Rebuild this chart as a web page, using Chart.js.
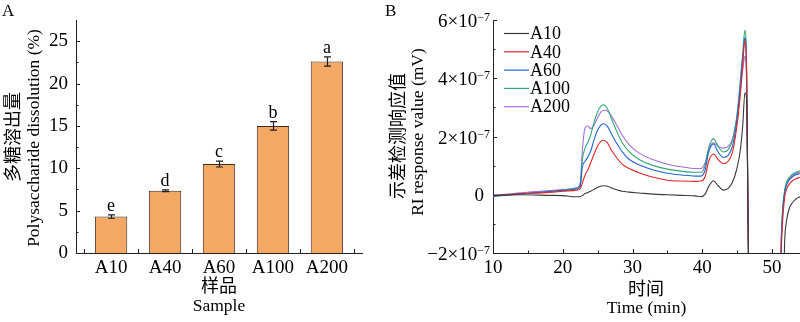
<!DOCTYPE html>
<html><head><meta charset="utf-8">
<script src="https://cdn.jsdelivr.net/npm/chart.js@4.4.0/dist/chart.umd.min.js"></script>
<style>
html,body{margin:0;padding:0;width:800px;height:322px;overflow:hidden;background:#fff;}
#ca{position:absolute;left:0;top:0;}
#cb{position:absolute;left:380px;top:0;}
.pl{position:absolute;font:17px "Liberation Serif",serif;line-height:17px;color:#000;}
</style></head><body>
<canvas id="ca" width="385" height="322"></canvas>
<canvas id="cb" width="420" height="322"></canvas>
<div class="pl" style="left:2px;top:2px">A</div>
<div class="pl" style="left:385px;top:2px">B</div>
<script>
// ---------- Panel A data ----------
const SAMPLES = ['A10', 'A40', 'A60', 'A100', 'A200'];
const DISSOLUTION = [4.3, 7.35, 10.5, 15.0, 22.6];
const DISSOLUTION_SD = [0.2, 0.1, 0.35, 0.5, 0.55];
const SIG_LETTERS = ['e', 'd', 'c', 'b', 'a'];
const A_Y_TICKS = [0, 5, 10, 15, 20, 25];
const A_Y_MINOR = [2.5, 7.5, 12.5, 17.5, 22.5];
const A_X_MARKS = [0.5, 1.5, 2.5, 3.5, 4.5, 5.5];

// ---------- Panel B data (RI response, units of 10^-7 mV) ----------
const TIME = [10, 14, 18, 20, 22, 22.5, 22.8, 23.2, 23.6, 24.0, 24.5, 25.0, 25.5, 25.9, 26.4, 27.0, 27.7, 28.5, 29.5, 31, 33, 35, 37, 39, 39.8, 40.4, 40.9, 41.6, 42.3, 43.0, 43.7, 44.3, 44.9, 45.4, 45.8, 46.1, 46.35, 46.7, 48, 50, 51.0, 51.25, 51.5, 51.8, 52.1, 52.5, 53.0, 53.5, 54.0];
const RI_A10  = [-0.02, 0.0, -0.02, -0.03, -0.07, -0.06, -0.03, 0.04, 0.08, 0.12, 0.19, 0.25, 0.3, 0.31, 0.29, 0.23, 0.17, 0.12, 0.09, 0.06, 0.02, 0.0, -0.02, -0.04, -0.07, 0.02, 0.28, 0.48, 0.3, 0.16, 0.22, 0.42, 0.85, 1.45, 2.4, 3.5, 3.3, -4, -8, -8, -8, -8, -4.5, -1.6, -0.85, -0.45, -0.25, -0.13, -0.07];
const RI_A40  = [-0.03, 0.03, 0.08, 0.12, 0.16, 0.2, 0.4, 0.68, 0.85, 1.1, 1.4, 1.68, 1.84, 1.87, 1.78, 1.52, 1.28, 1.05, 0.9, 0.75, 0.6, 0.5, 0.47, 0.46, 0.47, 0.62, 1.15, 1.4, 1.2, 1.07, 1.15, 1.45, 2.25, 3.3, 4.5, 5.3, 4.0, -4, -8, -8, -8, -2.7, -0.95, -0.1, 0.2, 0.38, 0.5, 0.56, 0.6];
const RI_A60  = [-0.05, 0.04, 0.11, 0.15, 0.2, 0.28, 0.95, 1.15, 1.3, 1.5, 1.9, 2.22, 2.4, 2.44, 2.35, 2.08, 1.78, 1.48, 1.22, 1.02, 0.85, 0.74, 0.68, 0.64, 0.64, 0.85, 1.45, 1.74, 1.45, 1.28, 1.35, 1.65, 2.45, 3.6, 4.7, 5.4, 4.2, -4, -8, -8, -8, -2.4, -0.7, 0.05, 0.35, 0.52, 0.63, 0.7, 0.72];
const RI_A100 = [-0.06, 0.03, 0.11, 0.16, 0.22, 0.32, 1.2, 1.6, 1.8, 2.05, 2.5, 2.85, 3.05, 3.09, 2.95, 2.6, 2.2, 1.8, 1.48, 1.2, 1.0, 0.88, 0.81, 0.77, 0.77, 1.0, 1.6, 1.92, 1.65, 1.47, 1.55, 1.85, 2.6, 3.8, 4.9, 5.65, 4.4, -4, -8, -8, -8, -2.2, -0.55, 0.15, 0.45, 0.6, 0.72, 0.78, 0.82];
const RI_A200 = [-0.02, 0.07, 0.14, 0.18, 0.24, 0.4, 1.5, 2.3, 2.36, 2.27, 2.4, 2.65, 2.85, 2.9, 2.87, 2.7, 2.4, 2.05, 1.72, 1.42, 1.2, 1.05, 0.96, 0.9, 0.9, 1.1, 1.55, 1.78, 1.66, 1.6, 1.66, 1.9, 2.6, 3.5, 4.3, 4.75, 3.8, -4, -8, -8, -8, -2.3, -0.6, 0.1, 0.4, 0.56, 0.68, 0.74, 0.78];
const SERIES_NAMES = ['A10', 'A40', 'A60', 'A100', 'A200'];
const SERIES_COLORS = ['#3a3a3a', '#e0262a', '#2463d2', '#2fa874', '#a56ed8'];
const B_Y_TICKS = [-2, 0, 2, 4, 6];
const B_Y_MINOR = [-1, 1, 3, 5];
const B_X_TICKS = [10, 20, 30, 40, 50];
const B_X_MINOR = [15, 25, 35, 45];

const SERIF = '"Liberation Serif", "Times New Roman", serif';
const CJK = '"Noto Sans CJK SC", "Liberation Serif", sans-serif';
const TICK_PX = 19;

function tickMarks(spec) {
  return { id: 'tickMarks', afterDraw(chart) {
    const ctx = chart.ctx, a = chart.chartArea;
    ctx.save(); ctx.strokeStyle = '#222'; ctx.lineWidth = 1; ctx.beginPath();
    spec.forEach(s => {
      const sc = chart.scales[s.axis];
      s.values.forEach(v => {
        const p = Math.round(sc.getPixelForValue(v)) + 0.5;
        if (s.axis === 'x') { ctx.moveTo(p, a.bottom); ctx.lineTo(p, a.bottom - s.len); }
        else { ctx.moveTo(a.left, p); ctx.lineTo(a.left + s.len, p); }
      });
    });
    ctx.stroke(); ctx.restore();
  }};
}
function titles(items) {
  return { id: 'titles', afterDraw(chart) {
    const ctx = chart.ctx;
    ctx.save(); ctx.fillStyle = '#000'; ctx.textAlign = 'center'; ctx.textBaseline = 'middle';
    items.forEach(it => {
      ctx.font = it.font;
      if (it.rot) { ctx.save(); ctx.translate(it.x, it.y); ctx.rotate(-Math.PI / 2); ctx.fillText(it.text, 0, 0); ctx.restore(); }
      else ctx.fillText(it.text, it.x, it.y);
    });
    ctx.restore();
  }};
}

// ---------- Panel A ----------
const errorBars = { id: 'errorBars', afterDatasetsDraw(chart) {
  const ctx = chart.ctx, y = chart.scales.y, meta = chart.getDatasetMeta(0);
  ctx.save(); ctx.strokeStyle = '#1e1e1e'; ctx.lineWidth = 1.2; ctx.fillStyle = '#000';
  ctx.font = '18px ' + SERIF; ctx.textAlign = 'center'; ctx.textBaseline = 'alphabetic';
  meta.data.forEach((el, i) => {
    const x = Math.round(el.x) + 0.5;
    const hi = y.getPixelForValue(DISSOLUTION[i] + DISSOLUTION_SD[i]);
    const lo = y.getPixelForValue(DISSOLUTION[i] - DISSOLUTION_SD[i]);
    ctx.beginPath();
    ctx.moveTo(x, hi); ctx.lineTo(x, lo);
    ctx.moveTo(x - 3.5, hi); ctx.lineTo(x + 3.5, hi);
    ctx.moveTo(x - 3.5, lo); ctx.lineTo(x + 3.5, lo);
    ctx.stroke();
    ctx.fillText(SIG_LETTERS[i], el.x, hi - 4);
  });
  ctx.restore();
}};

new Chart(document.getElementById('ca'), {
  type: 'bar',
  data: { datasets: [{
    data: SAMPLES.map((s, i) => ({ x: i + 1, y: DISSOLUTION[i] })),
    backgroundColor: '#F4A866', borderColor: '#3b2c20', borderWidth: 1,
    barPercentage: 0.6, categoryPercentage: 1
  }]},
  options: {
    responsive: false, animation: false,
    layout: { padding: { top: 20, right: 23, left: 0, bottom: 0 } },
    plugins: { legend: { display: false }, tooltip: { enabled: false } },
    scales: {
      x: { type: 'linear', min: 0.35, max: 5.65, offset: false,
        grid: { display: false, drawTicks: false, offset: false }, border: { display: true, color: '#222', width: 1 },
        afterBuildTicks: s => { s.ticks = SAMPLES.map((_, i) => ({ value: i + 1 })); },
        ticks: { callback: v => SAMPLES[v - 1], font: { family: SERIF, size: TICK_PX }, color: '#000', padding: 4, maxRotation: 0, autoSkip: false },
        afterFit: s => { s.height = 69; } },
      y: { min: 0, max: 27.5,
        grid: { display: false, drawTicks: false }, border: { display: true, color: '#222', width: 1 },
        afterBuildTicks: s => { s.ticks = A_Y_TICKS.map(v => ({ value: v })); },
        ticks: { font: { family: SERIF, size: TICK_PX }, color: '#000', padding: 8 },
        afterFit: s => { s.width = 76; } }
    }
  },
  plugins: [errorBars,
    tickMarks([{ axis: 'y', values: A_Y_TICKS, len: 4 }, { axis: 'y', values: A_Y_MINOR, len: 2.5 }, { axis: 'x', values: A_X_MARKS, len: 4 }]),
    titles([
      { text: '多糖溶出量', x: 12.5, y: 137, rot: true, font: '18px ' + CJK },
      { text: 'Polysaccharide dissolution (%)', x: 34.5, y: 138, rot: true, font: '17.5px ' + SERIF },
      { text: '样品', x: 219, y: 285, font: '18px ' + CJK },
      { text: 'Sample', x: 219, y: 306, font: '17.5px ' + SERIF }
    ])]
});

// ---------- Panel B ----------
const RI_SERIES = [RI_A10, RI_A40, RI_A60, RI_A100, RI_A200];
const yLabelsB = { id: 'yLabelsB', afterDraw(chart) {
  const ctx = chart.ctx, y = chart.scales.y, a = chart.chartArea;
  ctx.save(); ctx.fillStyle = '#000'; ctx.textBaseline = 'alphabetic';
  B_Y_TICKS.forEach(v => {
    const p = y.getPixelForValue(v);
    if (v === 0) { ctx.font = TICK_PX + 'px ' + SERIF; ctx.textAlign = 'right'; ctx.fillText('0', a.left - 9, p + 6.5); return; }
    const main = (v < 0 ? '\u2212' + Math.abs(v) : String(v)) + '\u00d710';
    const exp = '\u22127';
    ctx.font = '12px ' + SERIF; const we = ctx.measureText(exp).width;
    const xr = a.left - 3;
    ctx.textAlign = 'right'; ctx.fillText(exp, xr, p + 1);
    ctx.font = TICK_PX + 'px ' + SERIF; ctx.fillText(main, xr - we, p + 7);
  });
  ctx.restore();
}};
const legendB = { id: 'legendB', afterDraw(chart) {
  const ctx = chart.ctx;
  ctx.save(); ctx.font = '18px ' + SERIF; ctx.textBaseline = 'middle'; ctx.textAlign = 'left';
  chart.data.datasets.forEach((ds, i) => {
    const yy = 33.5 + i * 18.3;
    ctx.strokeStyle = ds.borderColor; ctx.lineWidth = 1.2;
    ctx.beginPath(); ctx.moveTo(124, yy); ctx.lineTo(149, yy); ctx.stroke();
    ctx.fillStyle = '#000'; ctx.fillText(ds.label, 150, yy + 1);
  });
  ctx.restore();
}};

new Chart(document.getElementById('cb'), {
  type: 'line',
  data: { datasets: RI_SERIES.map((arr, k) => ({
    label: SERIES_NAMES[k],
    data: TIME.map((t, i) => ({ x: t, y: arr[i] })),
    borderColor: SERIES_COLORS[k], borderWidth: 1.1, pointRadius: 0,
    cubicInterpolationMode: 'monotone', fill: false
  }))},
  options: {
    responsive: false, animation: false,
    layout: { padding: { top: 20, right: 0, left: 0, bottom: 0 } },
    plugins: { legend: { display: false }, tooltip: { enabled: false } },
    scales: {
      x: { type: 'linear', min: 10, max: 54,
        grid: { display: false, drawTicks: false }, border: { display: true, color: '#222', width: 1 },
        afterBuildTicks: s => { s.ticks = B_X_TICKS.map(v => ({ value: v })); },
        ticks: { font: { family: SERIF, size: TICK_PX }, color: '#000', padding: 4, maxRotation: 0, autoSkip: false },
        afterFit: s => { s.height = 69; } },
      y: { min: -2, max: 6,
        grid: { display: false, drawTicks: false }, border: { display: true, color: '#222', width: 1 },
        afterBuildTicks: s => { s.ticks = B_Y_TICKS.map(v => ({ value: v })); },
        ticks: { display: false },
        afterFit: s => { s.width = 113; } }
    }
  },
  plugins: [yLabelsB, legendB,
    tickMarks([{ axis: 'y', values: B_Y_TICKS, len: 4 }, { axis: 'y', values: B_Y_MINOR, len: 2.5 }, { axis: 'x', values: B_X_TICKS, len: 4 }, { axis: 'x', values: B_X_MINOR, len: 2.5 }]),
    titles([
      { text: '示差检测响应值', x: 17.5, y: 136, rot: true, font: '18px ' + CJK },
      { text: 'RI response value (mV)', x: 38.5, y: 132, rot: true, font: '17.5px ' + SERIF },
      { text: '时间', x: 266, y: 288, font: '18px ' + CJK },
      { text: 'Time (min)', x: 266.5, y: 308, font: '17.5px ' + SERIF }
    ])]
});
</script>
</body></html>
